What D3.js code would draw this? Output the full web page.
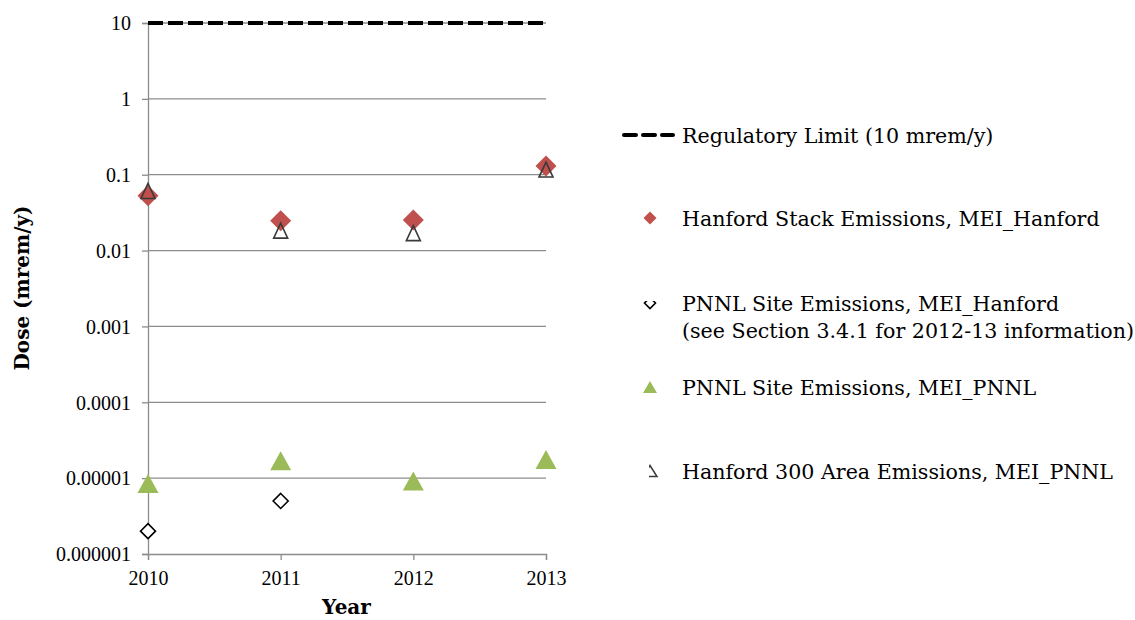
<!DOCTYPE html>
<html>
<head>
<meta charset="utf-8">
<script src="https://cdn.jsdelivr.net/npm/d3@7/dist/d3.min.js"></script>
<style>
  html, body { margin: 0; padding: 0; background: #fff; }
  svg { display: block; }
</style>
</head>
<body>
<svg id="chart" width="1135" height="620"></svg>
<script>
// ---- data ----
const years = [2010, 2011, 2012, 2013];
const yTicks = [10, 1, 0.1, 0.01, 0.001, 0.0001, 0.00001, 0.000001];
const yTickLabels = ["10", "1", "0.1", "0.01", "0.001", "0.0001", "0.00001", "0.000001"];
const regulatoryLimit = 10;
const hanfordStackMEIHanford = [0.053, 0.0248, 0.0252, 0.13];
const pnnlSiteMEIHanford = [0.000002, 0.000005, null, null];
const pnnlSiteMEIPNNL = [0.0000085, 0.000017, 0.0000092, 0.0000176];
const hanford300MEIPNNL = [0.061, 0.0183, 0.017, 0.117];
const legendLabels = [
  ["Regulatory Limit (10 mrem/y)"],
  ["Hanford Stack Emissions, MEI_Hanford"],
  ["PNNL Site Emissions, MEI_Hanford", "(see Section 3.4.1 for 2012-13 information)"],
  ["PNNL Site Emissions, MEI_PNNL"],
  ["Hanford 300 Area Emissions, MEI_PNNL"]
];
const xTitle = "Year";
const yTitle = "Dose (mrem/y)";

// ---- layout ----
const svg = d3.select("#chart");
const pLeft = 148, pRight = 546, pTop = 23, pBottom = 554;
const x = d3.scaleLinear().domain([2010, 2013]).range([pLeft, pRight]);
const y = d3.scaleLog().domain([0.000001, 10]).range([pBottom, pTop]);

const gridColor = "#8c8c8c";
const tickFont = "'Liberation Serif', 'Times New Roman', serif";
const textFont = "'DejaVu Serif', serif";

// gridlines
svg.append("g").selectAll("line").data(yTicks.filter(v => v > 0.000001)).join("line")
  .attr("x1", pLeft).attr("x2", pRight)
  .attr("y1", d => y(d)).attr("y2", d => y(d))
  .attr("stroke", gridColor).attr("stroke-width", 1.3);

// y axis
const yAxis = d3.axisLeft(y).tickValues(yTicks)
  .tickFormat((d, i) => yTickLabels[i]).tickSize(6).tickPadding(11);
const gy = svg.append("g").attr("transform", `translate(${pLeft},0)`).call(yAxis);
gy.select(".domain").attr("stroke", gridColor).attr("stroke-width", 1.3);
gy.selectAll(".tick line").attr("stroke", gridColor).attr("stroke-width", 1.3);
gy.selectAll(".tick text").attr("font-family", tickFont).attr("font-size", 20)
  .attr("fill", "#000").attr("dy", "0.34em");

// x axis
const xAxis = d3.axisBottom(x).tickValues(years).tickFormat(d3.format("d"))
  .tickSize(6).tickPadding(11);
const gx = svg.append("g").attr("transform", `translate(0,${pBottom})`).call(xAxis);
gx.select(".domain").attr("stroke", gridColor).attr("stroke-width", 1.3);
gx.selectAll(".tick line").attr("stroke", gridColor).attr("stroke-width", 1.3);
gx.selectAll(".tick text").attr("font-family", tickFont).attr("font-size", 20)
  .attr("fill", "#000").attr("dy", "0.71em");

// regulatory limit line
svg.append("line")
  .attr("x1", pLeft).attr("x2", pRight)
  .attr("y1", y(regulatoryLimit)).attr("y2", y(regulatoryLimit))
  .attr("stroke", "#000").attr("stroke-width", 4)
  .attr("stroke-dasharray", "15,5");

// marker helpers
const diamond = (s) => `M0,${-s}L${s},0L0,${s}L${-s},0Z`;
const tri = (w, h) => `M0,${-h/2}L${w/2},${h/2}L${-w/2},${h/2}Z`;

function pts(arr) {
  return years.map((yr, i) => ({ yr, v: arr[i] })).filter(d => d.v != null);
}

// PNNL site MEI_Hanford (open diamonds)
svg.append("g").selectAll("path").data(pts(pnnlSiteMEIHanford)).join("path")
  .attr("transform", d => `translate(${x(d.yr)},${y(d.v)})`)
  .attr("d", diamond(7.5)).attr("fill", "#fff").attr("stroke", "#000").attr("stroke-width", 1.6);

// PNNL site MEI_PNNL (green triangles)
svg.append("g").selectAll("path").data(pts(pnnlSiteMEIPNNL)).join("path")
  .attr("transform", d => `translate(${x(d.yr)},${y(d.v)})`)
  .attr("d", tri(21, 19)).attr("fill", "#9bbb59");

// Hanford stack MEI_Hanford (red diamonds)
svg.append("g").selectAll("path").data(pts(hanfordStackMEIHanford)).join("path")
  .attr("transform", d => `translate(${x(d.yr)},${y(d.v)})`)
  .attr("d", diamond(10.5)).attr("fill", "#c0504d");

// Hanford 300 area MEI_PNNL (open triangles)
svg.append("g").selectAll("path").data(pts(hanford300MEIPNNL)).join("path")
  .attr("transform", d => `translate(${x(d.yr)},${y(d.v)})`)
  .attr("d", tri(14, 15)).attr("fill", "none").attr("stroke", "#3a3a3a").attr("stroke-width", 1.6);

// axis titles
svg.append("text").attr("x", 346.5).attr("y", 614).attr("text-anchor", "middle")
  .attr("font-family", textFont).attr("font-weight", "bold").attr("font-size", 20)
  .text(xTitle);
svg.append("text").attr("transform", "translate(29,288) rotate(-90)").attr("text-anchor", "middle")
  .attr("font-family", textFont).attr("font-weight", "bold").attr("font-size", 20)
  .text(yTitle);

// legend
const legendY = [135, 218, 303, 387, 471];
const legendTextX = 682, markerX = 650;
const defs = svg.append("defs");
defs.append("clipPath").attr("id", "clipDiamond").append("rect")
  .attr("x", -8).attr("y", -2).attr("width", 16).attr("height", 12);
defs.append("clipPath").attr("id", "clipTri").append("rect")
  .attr("x", -1).attr("y", -9).attr("width", 11).attr("height", 18);

const lg = svg.append("g");
legendLabels.forEach((lines, i) => {
  const t = lg.append("text").attr("font-family", textFont).attr("font-size", 20.6).attr("fill", "#000");
  lines.forEach((ln, j) => {
    t.append("tspan").attr("x", legendTextX).attr("y", legendY[i] + 7.5 + j * 27).text(ln);
  });
});
lg.append("line").attr("x1", 624).attr("x2", 673).attr("y1", legendY[0]).attr("y2", legendY[0])
  .attr("stroke", "#000").attr("stroke-width", 4).attr("stroke-dasharray", "12,7").attr("stroke-linecap", "round");
lg.append("path").attr("transform", `translate(${markerX},${legendY[1]})`)
  .attr("d", diamond(6.5)).attr("fill", "#c0504d");
lg.append("g").attr("transform", `translate(${markerX},${legendY[2]})`).attr("clip-path", "url(#clipDiamond)")
  .append("path").attr("d", diamond(5.5)).attr("fill", "#fff").attr("stroke", "#000").attr("stroke-width", 1.6);
lg.append("path").attr("transform", `translate(${markerX},${legendY[3]})`)
  .attr("d", tri(14, 12)).attr("fill", "#9bbb59");
lg.append("g").attr("transform", `translate(${markerX},${legendY[4]})`).attr("clip-path", "url(#clipTri)")
  .append("path").attr("d", tri(14, 11)).attr("fill", "none").attr("stroke", "#3a3a3a").attr("stroke-width", 1.5);
</script>
</body>
</html>
